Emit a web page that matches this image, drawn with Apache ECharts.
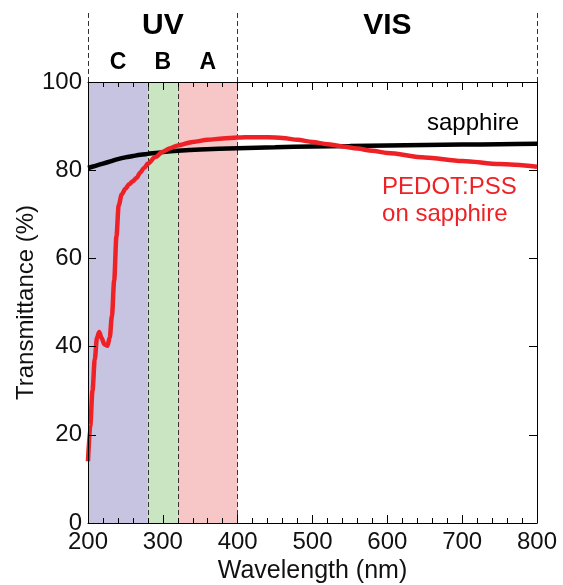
<!DOCTYPE html>
<html>
<head>
<meta charset="utf-8">
<script src="https://cdn.jsdelivr.net/npm/echarts@6/dist/echarts.min.js"></script>
<style>html,body{margin:0;padding:0;background:#fff}#c{width:563px;height:585px}</style>
</head>
<body>
<div id="c"></div>
<script>
// ---- data ----
const wlRed  = [200,203,206,209,212,215,218,222,226,229,232,235,238,241,245,250,255,260,265,270,275,280,290,300,310,320,340,360,380,400,420,440,460,480,500,520,540,560,580,600,650,700,750,800];
const tRed   = [14,22,30,37,42,43.3,42,40.5,40.2,42,47,55,65,72,74.5,75.8,76.8,77.5,78.3,79.5,80.5,81.5,83,84.2,85,85.6,86.4,86.9,87.2,87.4,87.5,87.5,87.3,86.9,86.4,85.9,85.4,84.9,84.4,83.9,82.9,82.1,81.4,80.8];
const wlSap  = [200,210,220,230,240,250,260,270,280,300,320,350,400,450,500,550,600,650,700,750,800];
const tSap   = [80.5,81,81.5,82,82.5,82.9,83.2,83.5,83.7,84.1,84.4,84.7,85.0,85.2,85.4,85.5,85.6,85.7,85.8,85.9,86];
const bands  = [{name:'C', from:200, to:280}, {name:'B', from:280, to:320}, {name:'A', from:320, to:400}];
const regions = [{name:'UV', from:200, to:400}, {name:'VIS', from:400, to:800}];
const bandColors = ['#c6c4e1','#c9e5c1','#f7c6c6'];
const dividers = [280, 320, 400];
const topDividers = [200, 400, 800];
const xTicks = {min:200, max:800, interval:100};
const yTicks = {min:0, max:100, interval:20};

const FONT = 'Liberation Sans, Arial, sans-serif';
const chart = echarts.init(document.getElementById('c'));
const zip = (a,b) => a.map((v,i)=>[v,b[i]]);

const tick = {show:true, inside:true, length:8, lineStyle:{color:'#000', width:1}};
const minor = {show:true, splitNumber:5, length:5, lineStyle:{color:'#000', width:1}};
const line = {show:true, onZero:false, lineStyle:{color:'#000', width:1}};

chart.setOption({
  animation:false,
  grid:[
    {left:88, right:26, top:82, bottom:62, containLabel:false, outerBoundsMode:'none'},
    {left:88, right:26, top:12, height:70, containLabel:false, outerBoundsMode:'none'}
  ],
  xAxis:[
    {type:'value', gridIndex:0, position:'bottom', min:xTicks.min, max:xTicks.max, interval:xTicks.interval, z:10,
      name:'Wavelength (nm)', nameLocation:'middle', nameGap:36, nameMoveOverlap:false,
      nameTextStyle:{fontFamily:FONT, fontSize:25, color:'#111'},
      axisLine:line, axisTick:tick, minorTick:minor, splitLine:{show:false},
      axisLabel:{fontFamily:FONT, fontSize:24, color:'#111', margin:7}},
    {type:'value', gridIndex:0, position:'top', min:xTicks.min, max:xTicks.max, interval:xTicks.interval, z:10,
      axisLine:line, axisTick:tick, minorTick:minor, splitLine:{show:false},
      axisLabel:{show:false}},
    {type:'value', gridIndex:1, min:xTicks.min, max:xTicks.max, show:false}
  ],
  yAxis:[
    {type:'value', gridIndex:0, position:'left', min:yTicks.min, max:yTicks.max, interval:yTicks.interval, z:10,
      name:'Transmittance (%)', nameLocation:'middle', nameGap:50, nameMoveOverlap:false,
      nameTextStyle:{fontFamily:FONT, fontSize:24, color:'#111'},
      axisLine:line, axisTick:tick, splitLine:{show:false},
      axisLabel:{fontFamily:FONT, fontSize:24, color:'#111', margin:6}},
    {type:'value', gridIndex:0, position:'right', min:yTicks.min, max:yTicks.max, interval:yTicks.interval, z:10,
      axisLine:line, axisTick:tick, splitLine:{show:false},
      axisLabel:{show:false}},
    {type:'value', gridIndex:1, min:0, max:1, show:false}
  ],
  series:[
    {type:'line', xAxisIndex:0, yAxisIndex:0, data:[], z:1,
      markArea:{silent:true, z:1, data: bands.map((b,i)=>[{xAxis:b.from, itemStyle:{color:bandColors[i]}},{xAxis:b.to}])},
      markLine:{silent:true, symbol:'none', label:{show:false}, z:2,
        lineStyle:{color:'#333', width:1, type:[5,3]},
        data: dividers.map(v=>({xAxis:v}))}
    },
    {type:'line', xAxisIndex:2, yAxisIndex:2, data:[],
      markLine:{silent:true, symbol:'none', label:{show:false},
        lineStyle:{color:'#333', width:1, type:[5,3]},
        data: topDividers.map(v=>({xAxis:v}))}
    },
    {name:'sapphire', type:'line', xAxisIndex:0, yAxisIndex:0, data:zip(wlSap,tSap), showSymbol:false, smooth:0.3, z:5,
      lineStyle:{color:'#000', width:4.5}},
    {name:'PEDOT:PSS on sapphire', type:'line', xAxisIndex:0, yAxisIndex:0, data:zip(wlRed,tRed), showSymbol:false, smooth:0.3, smoothMonotone:'x', z:6,
      lineStyle:{color:'#ee2226', width:4.5}}
  ]
});

function px(x, y, g){ return chart.convertToPixel({gridIndex:g||0}, [x, y]); }
const gfx = [];
regions.forEach(r => {
  const p = px((r.from+r.to)/2, 0.81, 1);
  gfx.push({type:'text', x:p[0], y:p[1], style:{text:r.name, font:'bold 30px '+FONT, fill:'#000', textAlign:'center', textVerticalAlign:'middle'}});
});
bands.forEach(b => {
  const p = px((b.from+b.to)/2, 0.27, 1);
  gfx.push({type:'text', x:p[0], y:p[1], style:{text:b.name, font:'bold 23px '+FONT, fill:'#000', textAlign:'center', textVerticalAlign:'middle'}});
});
const s = px(653, 90.7);
gfx.push({type:'text', x:s[0], y:s[1], style:{text:'sapphire', font:'24px '+FONT, fill:'#000', textAlign:'left', textVerticalAlign:'middle'}});
const r1 = px(593, 76);
gfx.push({type:'text', x:r1[0], y:r1[1], style:{text:'PEDOT:PSS', font:'24px '+FONT, fill:'#ee2226', textAlign:'left', textVerticalAlign:'middle'}});
const r2 = px(593, 70);
gfx.push({type:'text', x:r2[0], y:r2[1], style:{text:'on sapphire', font:'24px '+FONT, fill:'#ee2226', textAlign:'left', textVerticalAlign:'middle'}});
chart.setOption({graphic:gfx});
</script>
</body>
</html>
